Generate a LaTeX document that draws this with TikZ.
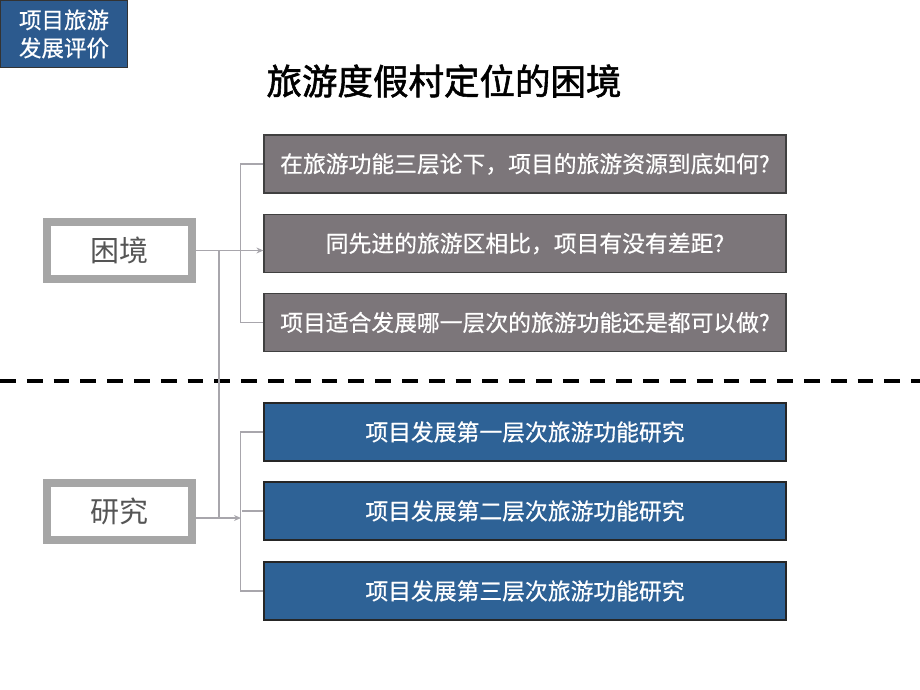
\documentclass[tikz,border=0pt]{standalone}
\usepackage{fontspec}
\newfontfamily\cjk{Noto Sans CJK SC}
\newfontfamily\cjkheavy[FakeBold=1.6]{Noto Sans CJK SC}
\newfontfamily\cjkmid[FakeBold=0.6]{Noto Sans CJK SC}
\usetikzlibrary{arrows.meta}

\definecolor{boxgray}{RGB}{124,118,122}
\definecolor{boxblue}{RGB}{46,98,150}
\definecolor{tagblue}{RGB}{44,90,142}
\definecolor{linegray}{RGB}{168,166,172}
\definecolor{framegray}{RGB}{166,166,166}
\definecolor{textgray}{RGB}{85,85,85}

\begin{document}
\begin{tikzpicture}[x=1pt, y=-1pt, every node/.style={font=\cjk},
  qbox/.style={draw=black!75, line width=1.2pt, fill=boxgray, text=white,
    minimum width=522pt, minimum height=58pt, inner sep=0pt,
    font=\cjkmid\fontsize{22.8}{24}\selectfont},
  rbox/.style={qbox, fill=boxblue, draw=black!85},
  sidebox/.style={draw=framegray, line width=8pt, fill=white, text=textgray,
    minimum width=145pt, minimum height=57pt,
    font=\cjk\fontsize{29}{30}\selectfont},
  link/.style={draw=linegray, line width=1.2pt},
  tip/.style={-{Stealth[length=7pt,width=6pt]}}]
  \useasboundingbox (0,0) rectangle (920,690);

  % Etiquette en haut a gauche
  \node[draw=black!80, line width=1pt, fill=tagblue, text=white, align=center,
    minimum width=127pt, minimum height=67pt, inner sep=0pt,
    font=\cjkmid\fontsize{22.5}{28}\selectfont] (tag) at (64,34) {项目旅游\\发展评价};

  % Titre
  \node[font=\cjkheavy\fontsize{35.5}{37}\selectfont] (title) at (444,81) {旅游度假村定位的困境};

  % Ligne de separation
  \draw[line width=4pt, dash pattern=on 15.8pt off 11pt] (0,381) -- (920,381);

  % Boites de gauche
  \node[sidebox] (kunjing) at (119.5,250.5) {困境};
  \node[sidebox] (yanjiu) at (119.5,511) {研究};

  % Questions (haut)
  \node[qbox] (q1) at (525,164) {在旅游功能三层论下，项目的旅游资源到底如何?};
  \node[qbox] (q2) at (525,243.5) {同先进的旅游区相比，项目有没有差距?};
  \node[qbox] (q3) at (525,322.5) {项目适合发展哪一层次的旅游功能还是都可以做?};

  % Recherches (bas)
  \node[rbox] (r1) at (525,432) {项目发展第一层次旅游功能研究};
  \node[rbox] (r2) at (525,511) {项目发展第二层次旅游功能研究};
  \node[rbox] (r3) at (525,591) {项目发展第三层次旅游功能研究};

  % Connecteurs
  \coordinate (jtop) at ([xshift=23pt]kunjing.east);
  \coordinate (yin) at ([yshift=-7pt]yanjiu.east);
  \draw[link] (q1.west) -- ++(-23,0) |- (q3.west);
  \draw[link] (r1.west) -- ++(-23,0) |- (r3.west);
  \draw[link] (r2.west) -- ++(-21,0);
  \draw[link] (jtop) -- (jtop |- yin);
  \draw[link, tip] (kunjing.east) -- (kunjing.east -| q2.west);
  \draw[link, tip] (yin) -- ++(45,0);
\end{tikzpicture}
\end{document}
